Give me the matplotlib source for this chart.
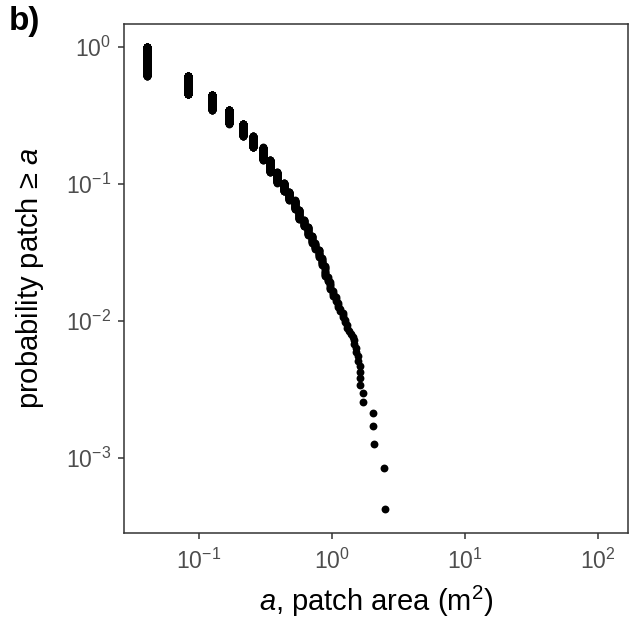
import numpy as np
import matplotlib.pyplot as plt

area = [0.0408, 0.0831, 0.1260, 0.1693, 0.2128, 0.2566, 0.3006, 0.3448, 0.3891, 0.4335,
        0.4780, 0.5227, 0.5674, 0.6122, 0.6572, 0.7022, 0.7472, 0.7923, 0.8376, 0.8828,
        0.9282, 0.9736, 1.0190, 1.0645, 1.1101, 1.1557, 1.2013, 1.2470, 1.2928, 1.3385,
        1.3843, 1.4302, 1.4761, 1.5220, 1.5680, 1.6140, 1.7060, 2.03, 2.07, 2.45, 2.50]
count = [899, 395, 240, 170, 122, 92, 82, 66, 47, 33,
         28, 26, 24, 14, 16, 12, 9, 10, 9, 10,
         4, 6, 4, 3, 3, 2, 3, 2, 2, 1,
         1, 1, 2, 2, 2, 4, 2, 2, 1, 1, 1]

# one point per patch, y = rank / N  (probability patch >= a)
a_all = np.repeat(area, count)
a_sorted = np.sort(a_all)
N = len(a_sorted)
prob = (N - np.arange(N)) / N

plt.rcParams['font.family'] = 'Liberation Sans'
plt.rcParams['mathtext.fontset'] = 'custom'
plt.rcParams['mathtext.rm'] = 'Liberation Sans'
plt.rcParams['mathtext.it'] = 'Liberation Sans:italic'

fig = plt.figure(figsize=(6.37, 6.24), dpi=100)
ax = fig.add_axes([124/637, 1-533/624, (628-124)/637, (533-24)/624])

ax.scatter(a_sorted, prob, s=32, color='black', linewidths=0, zorder=3)

ax.set_xscale('log')
ax.set_yscale('log')
ax.set_xlim(10**-1.564, 10**2.226)
ax.set_ylim(10**-3.547, 10**0.168)
ax.set_xticks([0.1, 1, 10, 100])
ax.set_xticklabels(['$10^{-1}$', '$10^{0}$', '$10^{1}$', '$10^{2}$'])
ax.set_yticks([1e-3, 1e-2, 1e-1, 1])
ax.set_yticklabels(['$10^{-3}$', '$10^{-2}$', '$10^{-1}$', '$10^{0}$'])
ax.minorticks_off()

for s in ax.spines.values():
    s.set_color('#333333')
    s.set_linewidth(1.1)
ax.tick_params(length=4, width=1.1, color='#333333', labelcolor='#4D4D4D',
               labelsize=16.5)
ax.tick_params(axis='x', pad=7.5)
ax.tick_params(axis='y', pad=5.5)

ax.set_xlabel('$a$, patch area (m$^2$)', fontsize=21, labelpad=7)
ax.set_ylabel('probability patch ≥ $a$', fontsize=21, labelpad=14)

fig.text(9/637, 1-6/624, 'b)', fontsize=24, fontweight='bold', va='top', ha='left')

fig.savefig('out.png', dpi=100)
